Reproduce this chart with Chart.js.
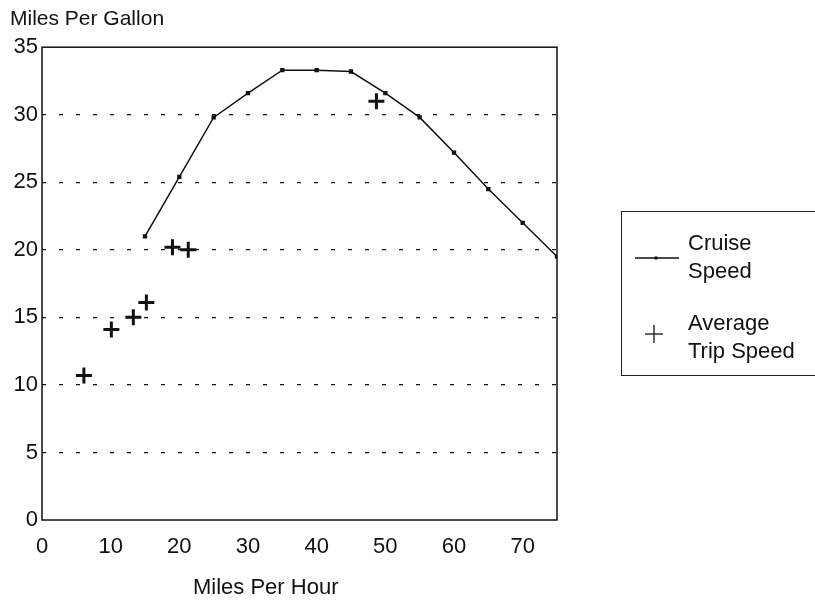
<!DOCTYPE html>
<html>
<head>
<meta charset="utf-8">
<script src="https://cdn.jsdelivr.net/npm/chart.js@4"></script>
<style>
  body { margin: 0; background: #fff; }
  #wrap { position: relative; width: 815px; height: 601px; }
  .txt { font-family: "Liberation Sans", Arial, sans-serif; font-size: 22px; color: #111; }
  #xtitle { position: absolute; left: 193px; top: 574px; line-height: 26px; }
  #legend {
    position: absolute; left: 621px; top: 211px; width: 200px; height: 165px;
    border: 1px solid #222; box-sizing: border-box;
  }
  .item { position: absolute; left: 66px; line-height: 28px; }
  .sym { position: absolute; }
</style>
</head>
<body>
<div id="wrap">
  <canvas id="chart" width="815" height="601"></canvas>
  <div id="xtitle" class="txt">Miles Per Hour</div>
  <div id="legend" class="txt">
    <svg class="sym" style="left:13px;top:38px" width="44" height="16">
      <line x1="0" y1="8" x2="44" y2="8" stroke="#111" stroke-width="1.5"/>
      <rect x="19.5" y="6.5" width="3" height="3" fill="#111"/>
    </svg>
    <div class="item" style="top:17px">Cruise<br>Speed</div>
    <svg class="sym" style="left:22px;top:112px" width="20" height="20">
      <line x1="1" y1="10" x2="19" y2="10" stroke="#111" stroke-width="1.3"/>
      <line x1="10" y1="1" x2="10" y2="19" stroke="#111" stroke-width="1.3"/>
    </svg>
    <div class="item" style="top:97px">Average<br>Trip Speed</div>
  </div>
</div>
<script>
// cruise speed curve (mph -> mpg)
const cruiseSpeed = [15, 20, 25, 30, 35, 40, 45, 50, 55, 60, 65, 70, 75];
const cruiseMpg = [21.0, 25.4, 29.8, 31.6, 33.3, 33.3, 33.2, 31.6, 29.8, 27.2, 24.5, 22.0, 19.5];

// average trip speed points
const tripSpeed = [6.1, 10.1, 13.3, 15.2, 19.0, 21.3, 48.7];
const tripMpg = [10.7, 14.1, 15.0, 16.1, 20.2, 20.0, 31.0];

const xTicks = [0, 10, 20, 30, 40, 50, 60, 70];
const yTicks = [0, 5, 10, 15, 20, 25, 30, 35];

const font = { family: '"Liberation Sans", Arial, sans-serif', size: 22 };
const ink = '#111';

// box round the plot area
const frame = {
  id: 'frame',
  afterDraw(chart) {
    const { ctx, chartArea: a } = chart;
    ctx.save();
    ctx.strokeStyle = ink;
    ctx.lineWidth = 1.5;
    ctx.strokeRect(a.left, a.top, a.right - a.left, a.bottom - a.top);
    ctx.restore();
  }
};

new Chart(document.getElementById('chart'), {
  type: 'line',
  data: {
    datasets: [{
      label: 'Cruise Speed',
      data: cruiseSpeed.map((s, i) => ({ x: s, y: cruiseMpg[i] })),
      borderColor: ink,
      backgroundColor: ink,
      borderWidth: 1.5,
      pointStyle: 'rect',
      pointRadius: 2,
      tension: 0
    }, {
      label: 'Average Trip Speed',
      data: tripSpeed.map((s, i) => ({ x: s, y: tripMpg[i] })),
      showLine: false,
      borderColor: ink,
      pointStyle: 'cross',
      pointRadius: 8,
      pointBorderWidth: 3
    }]
  },
  options: {
    responsive: false,
    animation: false,
    layout: { padding: { left: 10, right: 258, top: 0, bottom: 0 } },
    plugins: {
      legend: { display: false },
      tooltip: { enabled: false },
      title: {
        display: true,
        text: 'Miles Per Gallon',
        align: 'start',
        color: ink,
        font: { ...font, size: 21, weight: 'normal' },
        padding: { top: 7, bottom: 15 }
      }
    },
    scales: {
      x: {
        type: 'linear',
        min: 0,
        max: 75,
        afterBuildTicks: s => { s.ticks = xTicks.map(v => ({ value: v })); },
        afterFit: s => { s.height = 81; },
        ticks: { color: ink, font, padding: 6, maxRotation: 0 },
        grid: { display: false },
        border: { display: false }
      },
      y: {
        min: 0,
        max: 35,
        afterBuildTicks: s => { s.ticks = yTicks.map(v => ({ value: v })); },
        afterFit: s => { s.width = 32; },
        ticks: { color: ink, font, padding: 4 },
        grid: {
          color: c => (c.tick.value === 0 || c.tick.value === 35) ? 'rgba(0,0,0,0)' : ink,
          lineWidth: 1.3,
          drawTicks: false
        },
        border: { display: false, dash: [4, 13] }
      }
    }
  },
  plugins: [frame]
});
</script>
</body>
</html>
